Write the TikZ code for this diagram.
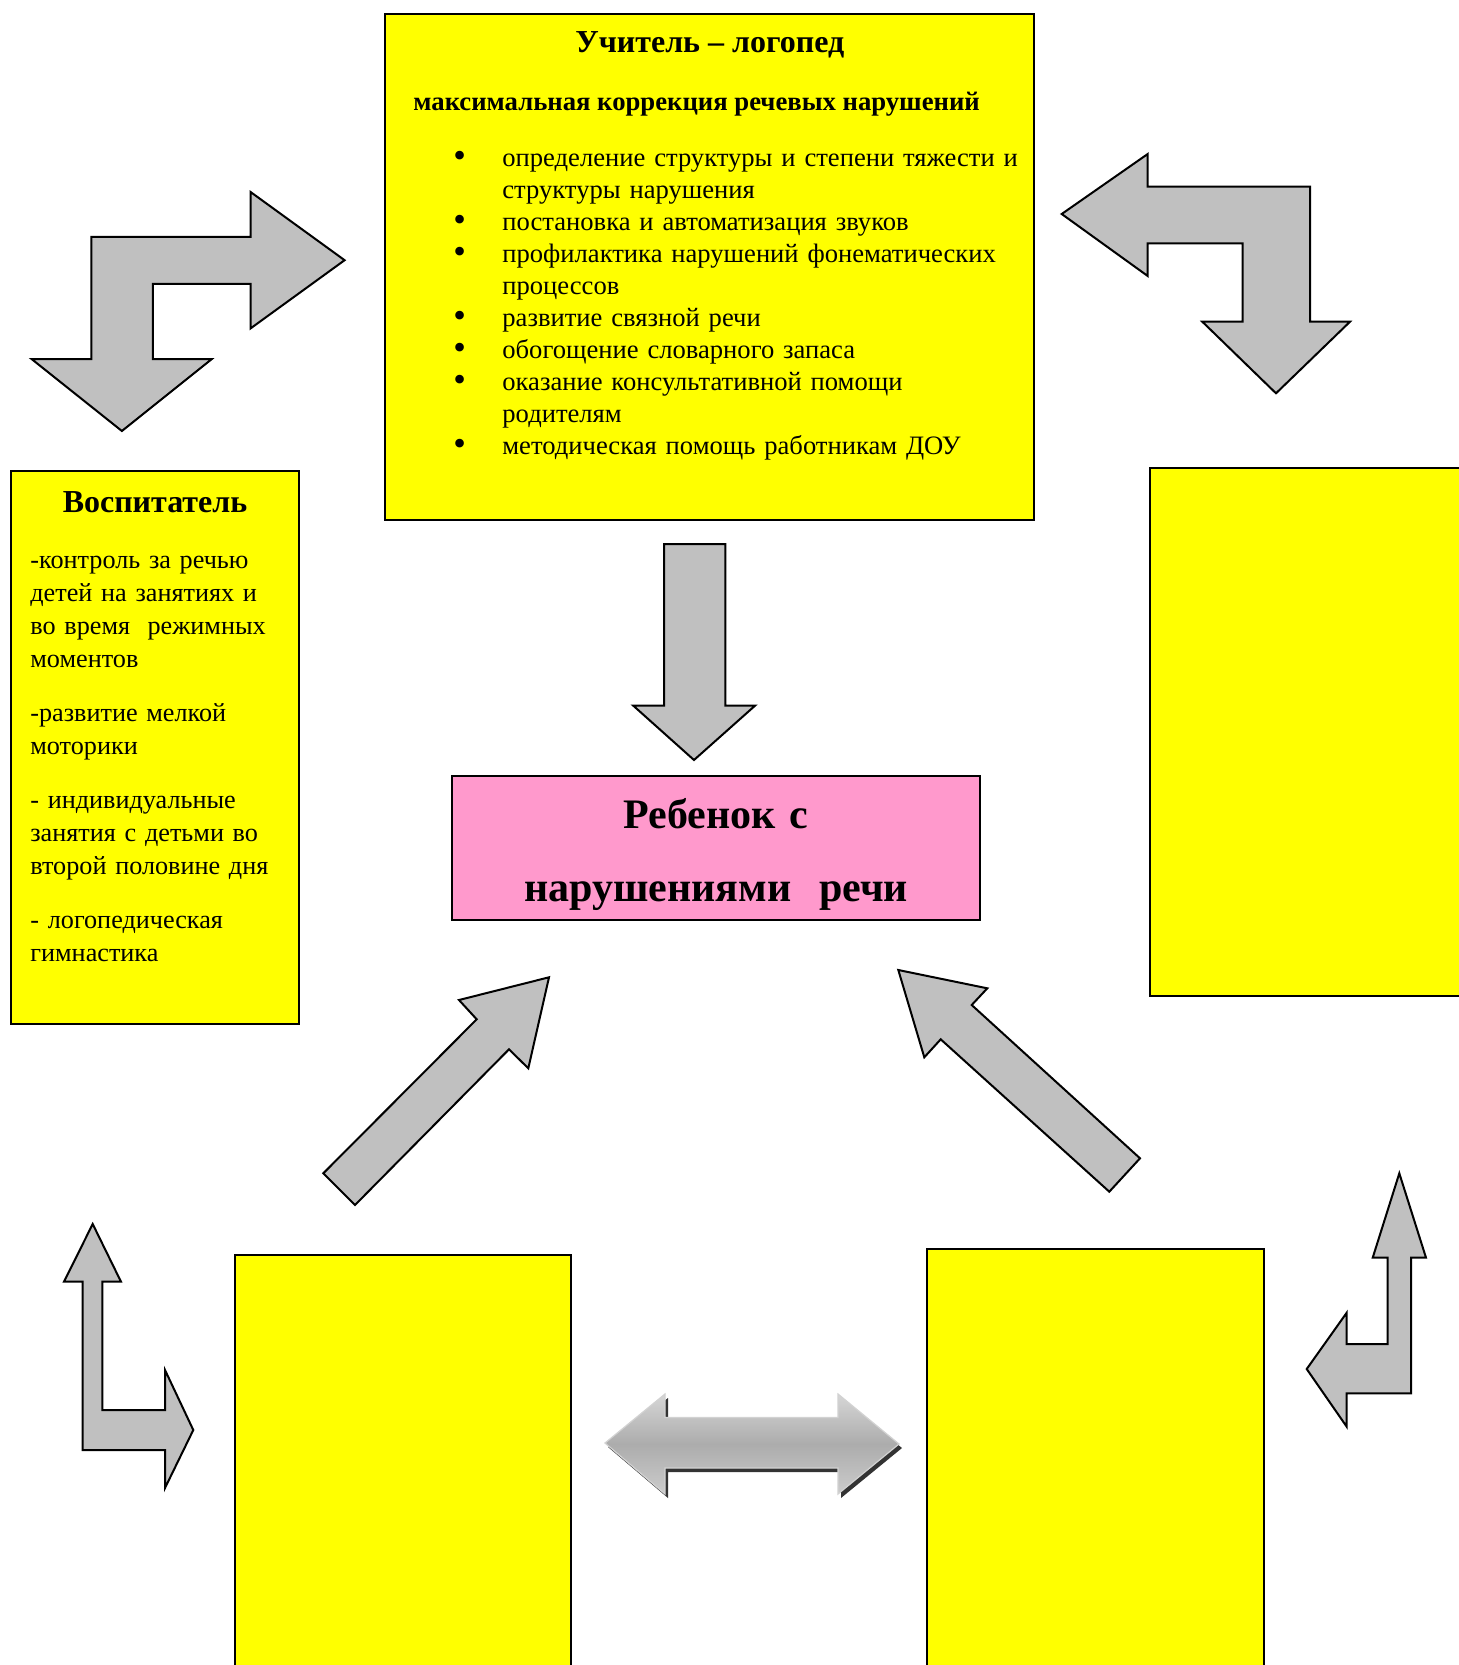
\documentclass[tikz,border=0pt]{standalone}
\usepackage{fontspec}
\setmainfont{Liberation Serif}
\usetikzlibrary{calc,positioning}

\definecolor{boxyellow}{RGB}{255,255,0}
\definecolor{boxpink}{RGB}{255,153,204}
\definecolor{arrowgray}{RGB}{192,192,192}

\tikzset{
  panel/.style={draw=black,line width=1pt,fill=boxyellow,inner sep=0pt,anchor=north west},
  blockarrow/.style={draw=black,line width=1pt,fill=arrowgray,line join=miter},
  bodytext/.style={font=\fontsize{13.3}{16}\selectfont,align=left,inner sep=0pt}
}
\newcommand{\punkt}{\makebox[24.5pt][l]{\smash{\raisebox{-0.8pt}{\fontsize{18}{16}\selectfont\textbullet}}}}
\newcommand{\weiter}{\hspace*{24.5pt}}

\begin{document}
\begin{tikzpicture}[x=0.5pt,y=-0.5pt]
        % one unit is one pixel of the sheet
        \useasboundingbox (0,0) rectangle (1458,1665);
        \fill[white] (0,0) rectangle (1458,1665);

        % the boxes
        \node[panel,minimum width=324.4pt,minimum height=253.3pt] (logoped) at (384.4,12.7) {};
        \node[panel,minimum width=144.4pt,minimum height=276.1pt] (vospitatel) at (9.6,470.4) {};
        \node[panel,fill=boxpink,minimum width=263.9pt,minimum height=71.65pt] (rebenok) at (451.3,775.2) {};
        \node[panel,minimum width=160.5pt,minimum height=263.9pt] (rechts) at (1149,467.2) {};
        \node[panel,minimum width=168.3pt,minimum height=213pt] (untenlinks) at (233.6,1254.1) {};
        \node[panel,minimum width=168.3pt,minimum height=216pt] (untenrechts) at (926,1247.7) {};

        % texts of the teacher box
        \node[anchor=base,inner sep=0pt,font=\bfseries\fontsize{16}{18}\selectfont]
          (logopedtitle) at (logoped.north |- 0,53) {Учитель – логопед};
        \node[anchor=base west,inner sep=0pt,font=\bfseries\fontsize{13.35}{16}\selectfont]
          (logopedziel) at (413,110) {максимальная коррекция речевых нарушений};
        \node[bodytext,anchor=base west,text width=300pt] (logopedliste) at (453,166) {%
          \punkt определение структуры и степени тяжести и\\
          \weiter структуры нарушения\\
          \punkt постановка и автоматизация звуков\\
          \punkt профилактика нарушений фонематических\\
          \weiter процессов\\
          \punkt развитие связной речи\\
          \punkt обогощение словарного запаса\\
          \punkt оказание консультативной помощи\\
          \weiter родителям\\
          \punkt методическая помощь работникам ДОУ};

        % texts of the educator box
        \node[anchor=base,inner sep=0pt,font=\bfseries\fontsize{16}{18}\selectfont]
          (vospitateltitle) at (vospitatel.north |- 0,512) {Воспитатель};
        \node[bodytext,anchor=base west,text width=135pt,font=\fontsize{13.1}{16.5}\selectfont]
          (vospitatelliste) at (30,568) {%
          -контроль за речью\\
          детей на занятиях и\\
          во время\ \ режимных\\
          моментов\\[10.5pt]
          -развитие мелкой\\
          моторики\\[10.5pt]
          - индивидуальные\\
          занятия с детьми во\\
          второй половине дня\\[10.5pt]
          - логопедическая\\
          гимнастика};

        % the child
        \node[anchor=base,inner sep=0pt,text width=260pt,align=center,
          font=\bfseries\fontsize{21}{36.5}\selectfont]
          (rebenoktext) at (rebenok.north |- 0,828) {Ребенок с\\нарушениями\ \ речи};

        % bent arrow, top left
        \draw[blockarrow] (91.3,236.8) -- (250.6,236.8) -- (250.6,192) -- (344.6,260.2)
          -- (250.6,328.4) -- (250.6,283.8) -- (152.8,283.8) -- (152.8,359.2)
          -- (211.6,359.2) -- (121.9,431) -- (31.8,359.2) -- (91.3,359.2) -- cycle;

        % bent arrow, top right
        \draw[blockarrow] (1147.7,186.7) -- (1310,186.7) -- (1310,321.7) -- (1350,321.7)
          -- (1276,393.3) -- (1202.3,321.7) -- (1242.7,321.7) -- (1242.7,243.3)
          -- (1147.7,243.3) -- (1147.7,276) -- (1061.7,214) -- (1147.7,154) -- cycle;

        % straight arrow down to the child
        \draw[blockarrow] (664,544) -- (725.3,544) -- (725.3,705.7) -- (755,705.7)
          -- (694,760) -- (633.3,705.7) -- (664,705.7) -- cycle;

        % diagonal arrows up to the child
        \draw[blockarrow] (323.3,1173.3) -- (476.7,1019.3) -- (459,1000) -- (549,977.3)
          -- (528.3,1068.3) -- (509,1049.3) -- (355,1205) -- cycle;
        \draw[blockarrow] (898.3,970) -- (987.3,988.3) -- (971.7,1005) -- (1140,1158.3)
          -- (1109.3,1191.7) -- (940.7,1039.3) -- (924.3,1057.3) -- cycle;

        % bent arrow, bottom left
        \draw[blockarrow] (82.7,1281.7) -- (64,1281.7) -- (92.7,1224) -- (121,1281.7)
          -- (102.3,1281.7) -- (102.3,1410) -- (165,1410) -- (165,1370) -- (193.3,1430)
          -- (165,1488) -- (165,1450) -- (82.7,1450) -- cycle;

        % bent arrow, bottom right
        \draw[blockarrow] (1387.7,1257.7) -- (1372.7,1257.7) -- (1399.3,1173.3) -- (1426,1257.7)
          -- (1411,1257.7) -- (1411,1393.3) -- (1346.7,1393.3) -- (1346.7,1426.7)
          -- (1306.7,1369) -- (1346.7,1312.7) -- (1346.7,1344) -- (1387.7,1344) -- cycle;

        % double arrow between the lower boxes, with its shadow
        \fill[gray!40!black,shift={(3,4)}] (605,1443) -- (665,1394) -- (665,1417.5)
          -- (838,1417.5) -- (838,1394) -- (899,1444) -- (838,1494) -- (838,1468)
          -- (665,1468) -- (665,1494) -- cycle;
        \shade[top color=gray!32,bottom color=gray!40,middle color=gray!65,
          draw=gray!35,line width=0.6pt] (605,1443) -- (665,1394) -- (665,1417.5)
          -- (838,1417.5) -- (838,1394) -- (899,1444) -- (838,1494) -- (838,1468)
          -- (665,1468) -- (665,1494) -- cycle;
    \end{tikzpicture}
\end{document}
